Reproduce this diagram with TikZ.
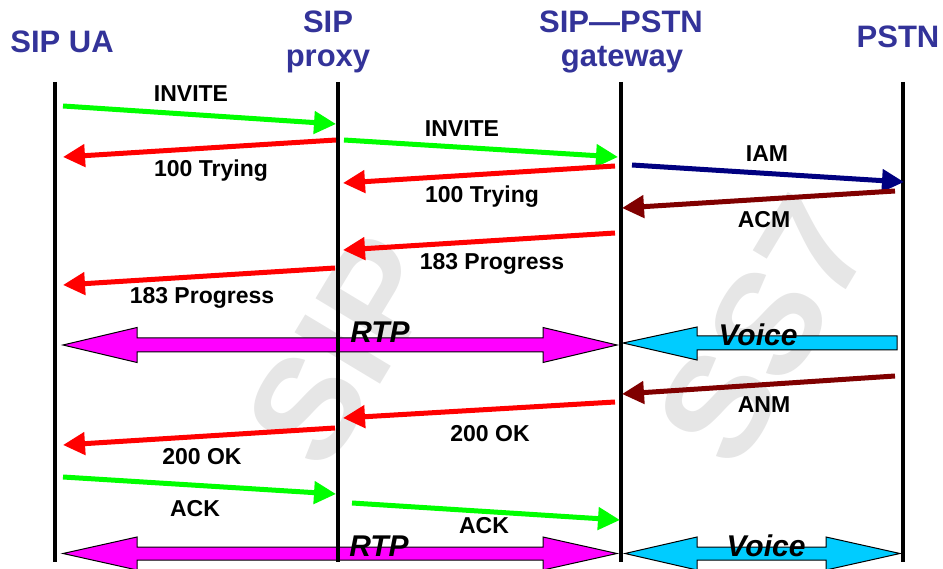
\documentclass[tikz,border=0pt]{standalone}
\usepackage{fontspec}
\setmainfont{Liberation Sans}
\usetikzlibrary{arrows.meta}
\definecolor{hdrblue}{HTML}{333399}
\definecolor{sipgreen}{HTML}{00FF00}
\definecolor{sipred}{HTML}{FF0000}
\definecolor{ss7navy}{HTML}{000080}
\definecolor{ss7maroon}{HTML}{800000}
\definecolor{rtpmag}{HTML}{FF00FF}
\definecolor{voicecyan}{HTML}{00CCFF}
\definecolor{wmgray}{HTML}{E6E6E6}
\tikzset{
  hdr/.style={font=\fontsize{31}{34}\selectfont\bfseries, text=hdrblue, inner sep=0pt, anchor=base},
  lbl/.style={font=\fontsize{23}{25}\selectfont\bfseries, text=black, inner sep=0pt, anchor=base},
  biglbl/.style={font=\fontsize{30}{32}\selectfont\bfseries\itshape, text=black, inner sep=0pt, anchor=base},
  wm/.style={font=\fontsize{145}{147}\selectfont\bfseries, text=wmgray, inner sep=0pt, rotate=59},
  life/.style={line width=4pt, black},
  msg/.style={line width=5pt, -{Triangle[length=22pt,width=22pt]}},
  fat/.style={draw=black, line width=1pt, line join=miter},
}
\begin{document}
\begin{tikzpicture}[x=1pt,y=-1pt]
\useasboundingbox (0,0) rectangle (943,569);
% watermarks
\node[wm] (wmsip) at (343,350) {SIP};
\node[wm] (wmss7) at (764,330) {SS7};
% headers
\node[hdr] (hua) at (62,53) {SIP UA};
\node[hdr] (hpx1) at (328,33) {SIP};
\node[hdr] (hpx2) at (328,67) {proxy};
\node[hdr] (hgw1) at (621,33) {SIP—PSTN};
\node[hdr] (hgw2) at (622,67) {gateway};
\node[hdr] (hpstn) at (898,48) {PSTN};
% lifeline coordinates
\coordinate (uaT) at (55,82);   \coordinate (uaB) at (55,562);
\coordinate (pxT) at (338,82);  \coordinate (pxB) at (338,562);
\coordinate (gwT) at (621,82);  \coordinate (gwB) at (621,562);
\coordinate (psT) at (903,82);  \coordinate (psB) at (903,562);
% big arrows (drawn under lifelines)
\path[fat, fill=rtpmag] (63,345) -- (137,327.5) -- (137,338) -- (543,338) -- (543,327.5) -- (617,345) -- (543,362.5) -- (543,352) -- (137,352) -- (137,362.5) -- cycle;
\path[fat, fill=voicecyan] (623,343) -- (697,327) -- (697,336) -- (897,336) -- (897,350) -- (697,350) -- (697,360) -- cycle;
\path[fat, fill=rtpmag] (63,553.5) -- (137,537) -- (137,547) -- (543,547) -- (543,537) -- (617,553.5) -- (543,570) -- (543,560) -- (137,560) -- (137,570) -- cycle;
\path[fat, fill=voicecyan] (625,553.5) -- (697,537) -- (697,547) -- (826,547) -- (826,537) -- (900,553.5) -- (826,570) -- (826,560) -- (697,560) -- (697,570) -- cycle;
% lifelines
\draw[life] (uaT) -- (uaB);
\draw[life] (pxT) -- (pxB);
\draw[life] (gwT) -- (gwB);
\draw[life] (psT) -- (psB);
% big arrow labels
\node[biglbl] (rtp1) at (380,343) {RTP};
\node[biglbl] (voice1) at (758,346) {Voice};
\node[biglbl] (rtp2) at (379,556) {RTP};
\node[biglbl] (voice2) at (766,556) {Voice};
% message end points
\coordinate (a1) at (63,106);   \coordinate (b1) at (336,124);
\coordinate (a2) at (336,140);  \coordinate (b2) at (63,157);
\coordinate (a3) at (344,140);  \coordinate (b3) at (618,157);
\coordinate (a4) at (615,166);  \coordinate (b4) at (343,183);
\coordinate (a5) at (632,165);  \coordinate (b5) at (904,182);
\coordinate (a6) at (895,191);  \coordinate (b6) at (622,208);
\coordinate (a7) at (615,233);  \coordinate (b7) at (343,250);
\coordinate (a8) at (335,268);  \coordinate (b8) at (63,285);
\coordinate (a9) at (895,376);  \coordinate (b9) at (622,394);
\coordinate (a10) at (615,402); \coordinate (b10) at (343,418);
\coordinate (a11) at (335,428); \coordinate (b11) at (63,445);
\coordinate (a12) at (63,477);  \coordinate (b12) at (336,494);
\coordinate (a13) at (352,503); \coordinate (b13) at (620,520);
% messages
\draw[msg, sipgreen] (a1) -- (b1);
\draw[msg, sipred] (a2) -- (b2);
\draw[msg, sipgreen] (a3) -- (b3);
\draw[msg, sipred] (a4) -- (b4);
\draw[msg, ss7navy] (a5) -- (b5);
\draw[msg, ss7maroon] (a6) -- (b6);
\draw[msg, sipred] (a7) -- (b7);
\draw[msg, sipred] (a8) -- (b8);
\draw[msg, ss7maroon] (a9) -- (b9);
\draw[msg, sipred] (a10) -- (b10);
\draw[msg, sipred] (a11) -- (b11);
\draw[msg, sipgreen] (a12) -- (b12);
\draw[msg, sipgreen] (a13) -- (b13);
% labels
\node[lbl] (l1) at (191,102) {INVITE};
\node[lbl] (l2) at (211,177) {100 Trying};
\node[lbl] (l3) at (462,137) {INVITE};
\node[lbl] (l4) at (482,203) {100 Trying};
\node[lbl] (l5) at (767,162) {IAM};
\node[lbl] (l6) at (764,228) {ACM};
\node[lbl] (l7) at (492,270) {183 Progress};
\node[lbl] (l8) at (202,304) {183 Progress};
\node[lbl] (l9) at (764,413) {ANM};
\node[lbl] (l10) at (490,441) {200 OK};
\node[lbl] (l11) at (202,464) {200 OK};
\node[lbl] (l12) at (195,516) {ACK};
\node[lbl] (l13) at (484,533) {ACK};
\end{tikzpicture}
\end{document}
